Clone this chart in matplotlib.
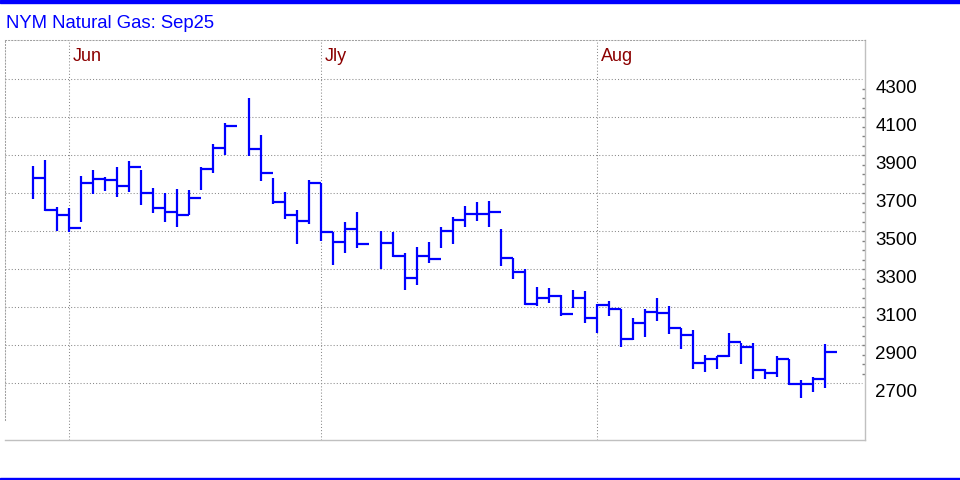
import numpy as np
import matplotlib.pyplot as plt
from matplotlib.ticker import FixedLocator, NullFormatter
from matplotlib.transforms import offset_copy, blended_transform_factory
from matplotlib.patches import Rectangle

plt.rcParams['font.family'] = ['Liberation Sans', 'DejaVu Sans']

nan = np.nan
# daily high / low / close, one slot per trading day (nan = no bar)
high = [3844, 3875, 3628, 3623, 3791, 3823, 3784, 3838, 3870, 3823,
        3726, 3700, 3723, 3717, 3837, 3961, 4068, nan, 4203, 4007,
        3781, 3707, 3612, 3770, 3756, 3495, 3549, 3602, nan, 3502,
        3498, 3384, 3417, 3444, 3523, 3575, 3633, 3654, 3660, 3511,
        3361, 3300, 3207, 3203, 3163, 3190, 3186, 3116, 3133, 3090,
        3042, 3090, 3147, 3107, 2993, 2982, 2847, 2846, 2963, 2914,
        2914, 2774, 2845, 2828, 2717, 2735, 2905]
low = [3672, 3605, 3502, 3495, 3551, 3698, 3714, 3682, 3708, 3638,
       3598, 3551, 3524, 3586, 3717, 3805, 3902, nan, 3898, 3766,
       3644, 3566, 3433, 3540, 3451, 3323, 3387, 3414, nan, 3300,
       3363, 3191, 3217, 3332, 3414, 3433, 3524, 3556, 3524, 3317,
       3247, 3111, 3108, 3121, 3056, 3098, 3016, 2966, 3054, 2893,
       2928, 2942, 3030, 2958, 2879, 2774, 2761, 2774, 2837, 2800,
       2721, 2721, 2735, 2691, 2621, 2653, 2674]
close = [3782, 3614, 3586, 3516, 3756, 3777, 3768, 3740, 3840, 3702,
         3624, 3603, 3586, 3677, 3830, 3940, 4056, nan, 3935, 3808,
         3656, 3587, 3554, 3756, 3495, 3445, 3514, 3435, nan, 3440,
         3370, 3256, 3370, 3356, 3503, 3561, 3590, 3590, 3603, 3361,
         3287, 3117, 3151, 3161, 3065, 3147, 3046, 3111, 3090, 2933,
         3016, 3077, 3072, 2993, 2954, 2808, 2828, 2844, 2919, 2891,
         2768, 2754, 2828, 2696, 2696, 2721, 2866]

months = ['Jun', 'Jly', 'Aug']
month_start = [3, 24, 47]
price_ticks = list(range(2700, 4301, 200))
minor_ticks = list(range(2750, 4300, 50))

fig = plt.figure(figsize=(9.6, 4.8), dpi=100)
ax = fig.add_axes([5.3 / 960, 39.7 / 480, 860 / 960, 400 / 480])

x = np.arange(len(close))
h = np.array(high)
l = np.array(low)
c = np.array(close)
ok = ~np.isnan(c)
blue = '#0000ff'
ax.vlines(x[ok], l[ok], h[ok], color=blue, lw=1.6, capstyle='butt')
ax.hlines(c[ok], x[ok], x[ok] + 1, color=blue, lw=1.6, capstyle='butt')

ax.set_xlim(-2.31, 69.36)
ax.set_ylim(2400, 4505)

grid_kw = dict(color='#8a8a8a', lw=0.75, ls=(0, (1, 2)), zorder=0)
for p in price_ticks:
    ax.axhline(p, xmax=0.996, **grid_kw)
for m in month_start:
    ax.axvline(m, **grid_kw)

# month labels near the top
bt = blended_transform_factory(ax.transData, ax.transAxes)
for m, name in zip(month_start, months):
    ax.text(m, 1, name, transform=offset_copy(bt, fig=fig, x=4, y=-20.4, units='dots'),
            color='#8b0000', fontsize=13, va='baseline', ha='left')

# price labels right of the axis
bt2 = blended_transform_factory(ax.transAxes, ax.transData)
for p in price_ticks:
    ax.text(1, p, str(p), transform=offset_copy(bt2, fig=fig, x=10, y=-13.3, units='dots'),
            color='black', fontsize=13.5, va='baseline', ha='left')

ax.yaxis.set_ticks_position('right')
ax.set_yticks([])
ax.yaxis.set_minor_locator(FixedLocator(minor_ticks))
ax.yaxis.set_minor_formatter(NullFormatter())
ax.tick_params(axis='y', which='minor', direction='in', length=2.2, color='#808080', width=1)
ax.set_xticks([])

for s in ['right', 'bottom']:
    ax.spines[s].set_color('#c0c0c0')
    ax.spines[s].set_linewidth(1)
for s in ['top', 'left']:
    ax.spines[s].set_color('#a0a0a0')
    ax.spines[s].set_linewidth(0.75)
    ax.spines[s].set_linestyle((0, (1, 2)))
ax.spines['left'].set_bounds(2507, 4505)

fig.text(6 / 960, 452.3 / 480, 'NYM Natural Gas: Sep25', color=blue, fontsize=13.3,
         va='baseline', ha='left')

fig.patches.append(Rectangle((0, 477 / 480), 1, 3 / 480, transform=fig.transFigure,
                             color=blue, zorder=5))
fig.patches.append(Rectangle((0, 0), 1, 2 / 480, transform=fig.transFigure,
                             color=blue, zorder=5))

fig.savefig('out.png', dpi=100)
